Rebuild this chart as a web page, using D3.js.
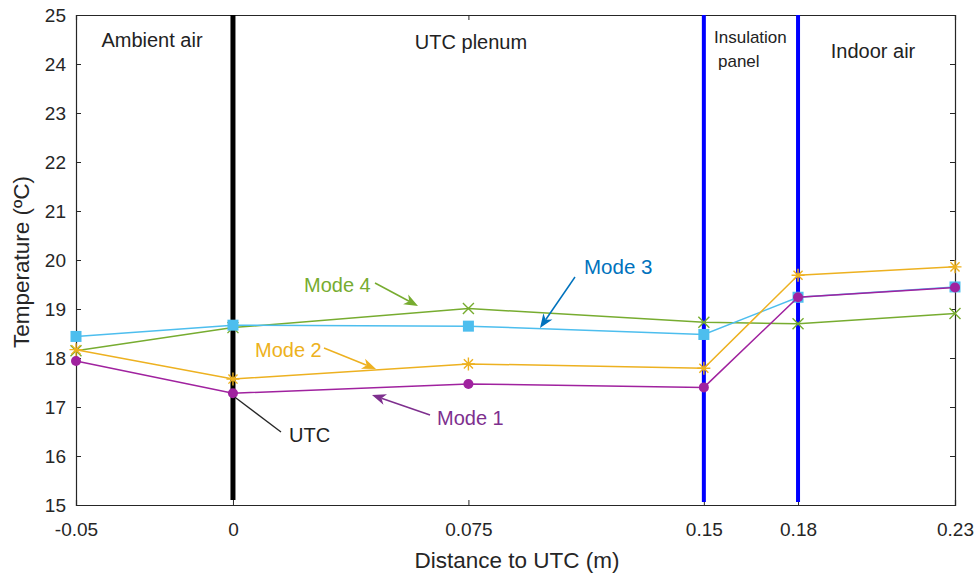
<!DOCTYPE html>
<html>
<head>
<meta charset="utf-8">
<script src="https://cdn.jsdelivr.net/npm/d3@7/dist/d3.min.js"></script>
<style>
  html, body { margin: 0; padding: 0; background: #fff; }
  svg text { font-family: "Liberation Sans", Arial, sans-serif; }
</style>
</head>
<body>
<svg id="chart" width="976" height="576"></svg>
<script>
// Measurement positions across the wall (m)
const positions = [-0.05, 0, 0.075, 0.15, 0.18, 0.23];
const xTickLabels = ["-0.05", "0", "0.075", "0.15", "0.18", "0.23"];
const yTicks = [15, 16, 17, 18, 19, 20, 21, 22, 23, 24, 25];

// Temperatures (°C) for each operating mode
const mode1 = [17.94, 17.28, 17.47, 17.40, 19.24, 19.44];
const mode2 = [18.17, 17.57, 17.88, 17.79, 19.69, 19.86];
const mode3 = [18.44, 18.67, 18.65, 18.48, 19.24, 19.45];
const mode4 = [18.15, 18.62, 19.01, 18.73, 18.70, 18.91];

// Wall layer boundaries
const utcBoundary = 0;
const panelBoundaries = [0.15, 0.18];

const plot = { left: 76, right: 955, top: 15, bottom: 505 };

const svg = d3.select("#chart");
const x = d3.scaleLinear().domain([-0.05, 0.23]).range([plot.left, plot.right]);
const y = d3.scaleLinear().domain([15, 25]).range([plot.bottom, plot.top]);

const axisColor = "#262626";

// Axes (ticks pointing inward, box on all four sides)
const xAxis = d3.axisBottom(x).tickValues(positions)
  .tickFormat((d, i) => xTickLabels[i]).tickSize(-5).tickPadding(18);
const yAxis = d3.axisLeft(y).tickValues(yTicks).tickFormat(d3.format("d"))
  .tickSize(-5).tickPadding(10);

const gx = svg.append("g").attr("transform", `translate(0,${plot.bottom})`).call(xAxis);
const gy = svg.append("g").attr("transform", `translate(${plot.left},0)`).call(yAxis);
const gxTop = svg.append("g").attr("transform", `translate(0,${plot.top})`)
  .call(d3.axisTop(x).tickValues(positions).tickSize(-5).tickFormat(""));
const gyRight = svg.append("g").attr("transform", `translate(${plot.right},0)`)
  .call(d3.axisRight(y).tickValues(yTicks).tickSize(-5).tickFormat(""));

[gx, gy, gxTop, gyRight].forEach(g => {
  g.select(".domain").attr("stroke", axisColor).attr("stroke-width", 1.2);
  g.selectAll(".tick line").attr("stroke", axisColor).attr("stroke-width", 1);
  g.selectAll(".tick text").attr("fill", axisColor).attr("font-size", 19)
    .attr("font-family", "Liberation Sans, Arial, sans-serif");
});
gy.selectAll(".tick text").attr("dy", "0.35em");

// Axis titles
svg.append("text").attr("x", 517).attr("y", 568)
  .attr("text-anchor", "middle").attr("font-size", 22.5).attr("fill", axisColor)
  .text("Distance to UTC (m)");
svg.append("text").attr("transform", `translate(29,262) rotate(-90)`)
  .attr("text-anchor", "middle").attr("font-size", 22.5).attr("fill", axisColor)
  .text("Temperature (ºC)");

// Layer boundaries
svg.append("line").attr("x1", x(utcBoundary)).attr("x2", x(utcBoundary))
  .attr("y1", plot.top).attr("y2", y(15.1))
  .attr("stroke", "#000").attr("stroke-width", 5);
panelBoundaries.forEach(b => {
  svg.append("line").attr("x1", x(b)).attr("x2", x(b))
    .attr("y1", plot.top).attr("y2", y(15.06))
    .attr("stroke", "#0000ff").attr("stroke-width", 4);
});

// Region labels
const regionLabels = [
  { lines: [["Ambient air", 152, 47]], size: 20, anchor: "middle" },
  { lines: [["UTC plenum", 471, 49]], size: 20, anchor: "middle" },
  { lines: [["Insulation", 714, 43], ["panel", 718, 67]], size: 17, anchor: "start" },
  { lines: [["Indoor air", 873, 58]], size: 20, anchor: "middle" }
];
regionLabels.forEach(r => {
  r.lines.forEach(([txt, lx, ly]) => {
    svg.append("text").attr("x", lx).attr("y", ly).attr("text-anchor", r.anchor)
      .attr("font-size", r.size).attr("fill", "#222").text(txt);
  });
});

// Series
const series = [
  { name: "Mode 4", values: mode4, color: "#77AC30", marker: "x" },
  { name: "Mode 3", values: mode3, color: "#4DBEEE", marker: "square" },
  { name: "Mode 2", values: mode2, color: "#EDB120", marker: "asterisk" },
  { name: "Mode 1", values: mode1, color: "#A0229F", marker: "circle" }
];

const line = d3.line().x((d, i) => x(positions[i])).y(d => y(d));

series.forEach(s => {
  const g = svg.append("g");
  g.append("path").attr("d", line(s.values)).attr("fill", "none")
    .attr("stroke", s.color).attr("stroke-width", 1.5);
  s.values.forEach((v, i) => {
    const cx = x(positions[i]), cy = y(v);
    if (s.marker === "circle") {
      g.append("circle").attr("cx", cx).attr("cy", cy).attr("r", 5).attr("fill", s.color);
    } else if (s.marker === "square") {
      g.append("rect").attr("x", cx - 5.5).attr("y", cy - 5.5).attr("width", 11).attr("height", 11)
        .attr("fill", s.color);
    } else if (s.marker === "x") {
      const r = 5.5;
      g.append("path").attr("d", `M${cx - r},${cy - r}L${cx + r},${cy + r}M${cx - r},${cy + r}L${cx + r},${cy - r}`)
        .attr("stroke", s.color).attr("stroke-width", 1.4);
    } else if (s.marker === "asterisk") {
      const r = 6.5;
      const d = `M${cx - r},${cy}L${cx + r},${cy}M${cx},${cy - r}L${cx},${cy + r}` +
        `M${cx - r * 0.7},${cy - r * 0.7}L${cx + r * 0.7},${cy + r * 0.7}` +
        `M${cx - r * 0.7},${cy + r * 0.7}L${cx + r * 0.7},${cy - r * 0.7}`;
      g.append("path").attr("d", d).attr("stroke", s.color).attr("stroke-width", 1.4);
    }
  });
});

// Arrow annotations
function arrow(x1, y1, x2, y2, color) {
  const ang = Math.atan2(y2 - y1, x2 - x1);
  const len = 14, half = 5.5, back = 10;
  const bx = x2 - len * Math.cos(ang), by = y2 - len * Math.sin(ang);
  const nx = -Math.sin(ang), ny = Math.cos(ang);
  const ix = x2 - back * Math.cos(ang), iy = y2 - back * Math.sin(ang);
  svg.append("line").attr("x1", x1).attr("y1", y1).attr("x2", ix).attr("y2", iy)
    .attr("stroke", color).attr("stroke-width", 1.5);
  svg.append("path")
    .attr("d", `M${x2},${y2}L${bx + nx * half},${by + ny * half}L${ix},${iy}L${bx - nx * half},${by - ny * half}Z`)
    .attr("fill", color);
}

const annotations = [
  { text: "Mode 4", tx: 304, ty: 292, size: 20, color: "#77AC30", from: [375, 283], to: [418, 306] },
  { text: "Mode 3", tx: 584, ty: 274, size: 20.5, color: "#0072BD", from: [575, 277], to: [540, 328] },
  { text: "Mode 2", tx: 255, ty: 357, size: 20, color: "#EDB120", from: [324, 348], to: [376, 369] },
  { text: "Mode 1", tx: 437, ty: 425, size: 20, color: "#7E2F8E", from: [430, 415], to: [372, 395] }
];
annotations.forEach(a => {
  arrow(a.from[0], a.from[1], a.to[0], a.to[1], a.color);
  svg.append("text").attr("x", a.tx).attr("y", a.ty).attr("font-size", a.size)
    .attr("fill", a.color).text(a.text);
});

// UTC pointer
svg.append("line").attr("x1", 281).attr("y1", 432).attr("x2", x(utcBoundary) + 2).attr("y2", y(17.2))
  .attr("stroke", "#262626").attr("stroke-width", 1.3);
svg.append("text").attr("x", 289).attr("y", 442).attr("font-size", 20).attr("fill", "#222").text("UTC");
</script>
</body>
</html>
